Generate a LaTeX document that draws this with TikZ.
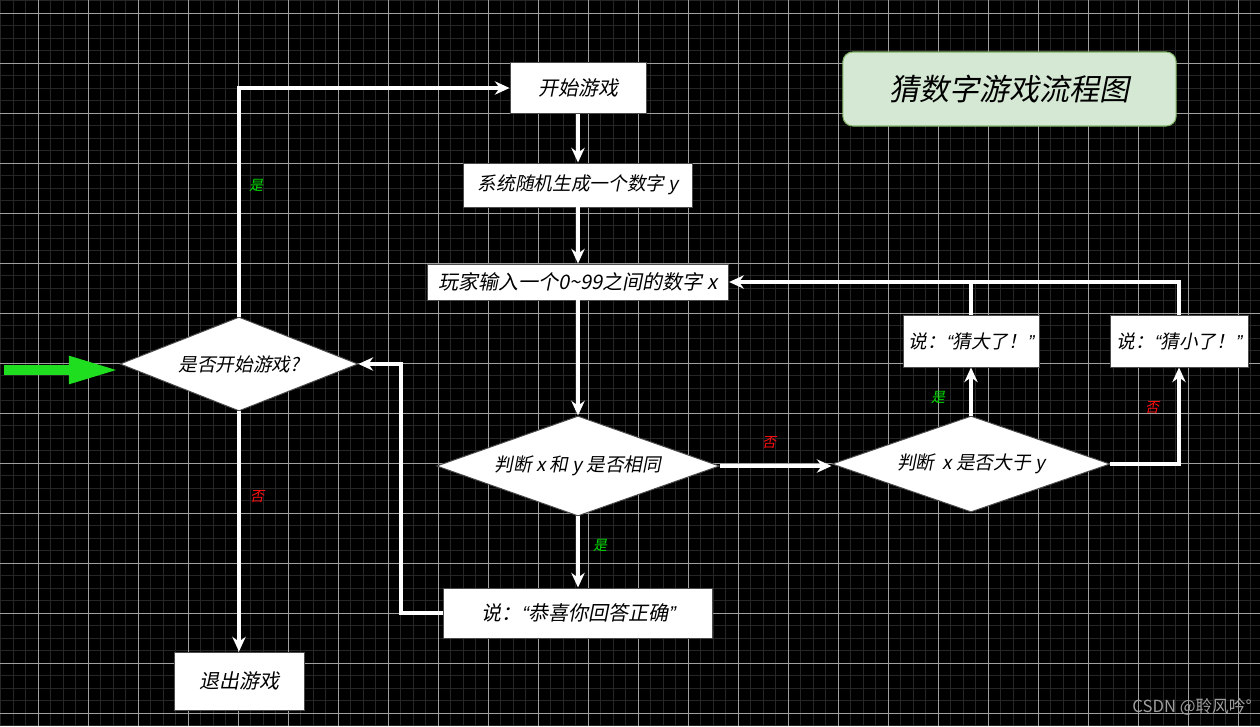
\documentclass[tikz,border=0pt]{standalone}
\usepackage{fontspec}
\usetikzlibrary{shapes.geometric,arrows.meta}
\newfontfamily\cjk[FakeSlant=0.2]{Noto Sans CJK SC}
\newfontfamily\cjkup{Noto Sans CJK SC}
\newfontfamily\qf[FakeSlant=0.2]{Liberation Sans}
\newcommand{\myLq}{{\qf “}}
\newcommand{\myRq}{{\qf ”}}
\definecolor{minorgrid}{HTML}{262626}
\definecolor{majorgrid}{HTML}{A0A0A0}
\definecolor{titlefill}{HTML}{D5E8D4}
\definecolor{titledraw}{HTML}{82B366}
\definecolor{yesgreen}{HTML}{00E000}
\definecolor{nored}{HTML}{FF1010}
\definecolor{bigarrow}{HTML}{1FDD1F}
\begin{document}
\begin{tikzpicture}[x=0.75pt,y=-0.75pt,
  procbox/.style={rectangle, fill=white, draw=black!70, line width=0.7pt, inner sep=0pt,
    font=\cjk\fontsize{15}{18}\selectfont, text=black},
  decide/.style={diamond, fill=white, draw=black!70, line width=0.7pt, inner sep=0pt,
    aspect=2.6, font=\cjk\fontsize{14}{17}\selectfont, text=black},
  flow/.style={draw=white, line width=2.6pt, -{Stealth[length=11pt,width=10pt]}},
  plainflow/.style={draw=white, line width=2.6pt},
  yeslab/.style={font=\cjk\fontsize{10.5}{12}\selectfont, text=yesgreen, inner sep=0pt},
  nolab/.style={font=\cjk\fontsize{10.5}{12}\selectfont, text=nored, inner sep=0pt}]
% background
\fill[black] (0,0) rectangle (1260,726);
\useasboundingbox (0,0) rectangle (1260,726);
\foreach \i in {0,...,100} \draw[minorgrid, line width=0.75pt] (0.8+12.5*\i,0) -- (0.8+12.5*\i,726);
\foreach \j in {0,...,58} \draw[minorgrid, line width=0.75pt] (0,0.8+12.5*\j) -- (1260,0.8+12.5*\j);
\foreach \i in {0,...,24} \draw[majorgrid, line width=0.75pt] (38.3+50*\i,0) -- (38.3+50*\i,726);
\foreach \j in {0,...,14} \draw[majorgrid, line width=0.75pt] (0,13.3+50*\j) -- (1260,13.3+50*\j);

% title
\node[rectangle, rounded corners=7.5pt, fill=titlefill, draw=titledraw, line width=0.8pt,
  minimum width=250pt, minimum height=55.5pt, font=\cjk\fontsize{22.5}{26}\selectfont, text=black]
  (title) at (1009.5,89) {猜数字游戏流程图};

% nodes
\node[procbox, minimum width=102pt, minimum height=38pt] (start) at (578,88) {开始游戏};
\node[procbox, minimum width=172pt, minimum height=33pt, font=\cjk\fontsize{14}{17}\selectfont] (gen) at (578,185) {系统随机生成一个数字 y};
\node[procbox, minimum width=226pt, minimum height=27pt] (input) at (578,282) {玩家输入一个0\textasciitilde 99之间的数字 x};
\node[decide, minimum width=212pt, minimum height=75pt] (same) at (578,466) {判断 x 和 y 是否相同};
\node[procbox, minimum width=202pt, minimum height=37.5pt] (ok) at (578,613) {说：\myLq 恭喜你回答正确\myRq};
\node[decide, minimum width=208.5pt, minimum height=72pt] (greater) at (971,464) {判断\ \ x 是否大于 y};
\node[procbox, minimum width=102pt, minimum height=39pt, font=\cjk\fontsize{14}{17}\selectfont] (big) at (971,341) {说：\myLq 猜大了！\myRq};
\node[procbox, minimum width=103.5pt, minimum height=39pt, font=\cjk\fontsize{14}{17}\selectfont] (small) at (1179,341) {说：\myLq 猜小了！\myRq};
\node[decide, minimum width=178.5pt, minimum height=70.5pt] (begin) at (239,364) {是否开始游戏?};
\node[procbox, minimum width=97.5pt, minimum height=43.5pt] (quit) at (239,681) {退出游戏};

% green entry arrow
\coordinate (entry) at (4,370);
\draw[bigarrow, line width=7.5pt, -{Triangle[length=38pt,width=19pt]}] (entry) -- (entry -| begin.west);

% connectors
\draw[flow] (begin.north) |- (start.west);
\draw[flow] (start.south) -- (gen.north);
\draw[flow] (gen.south) -- (input.north);
\draw[flow] (input.south) -- (same.north);
\draw[flow] (same.east) -- (same.east -| greater.west);
\draw[flow] (greater.north) -- (big.south);
\draw[flow] (greater.east) -| (small.south);
\draw[plainflow] (small.north) |- (big.north |- input.east);
\draw[flow] (big.north) |- (input.east);
\draw[flow] (same.south) -- (ok.north);
\draw[flow] (ok.west) -- ++(-42,0) |- (begin.east);
\draw[flow] (begin.south) -- (quit.north);

% labels
\node[yeslab] (l1) at (256,185) {是};
\node[nolab] (l2) at (257,497) {否};
\node[nolab] (l3) at (769,443) {否};
\node[yeslab] (l4) at (938,397) {是};
\node[nolab] (l5) at (1152,408) {否};
\node[yeslab] (l6) at (600,545) {是};

% watermark
\node[font=\cjkup\fontsize{12.5}{14}\selectfont, text=gray!75, anchor=east, inner sep=0pt] (mark) at (1252,707) {CSDN @聆风吟°};
\end{tikzpicture}
\end{document}
